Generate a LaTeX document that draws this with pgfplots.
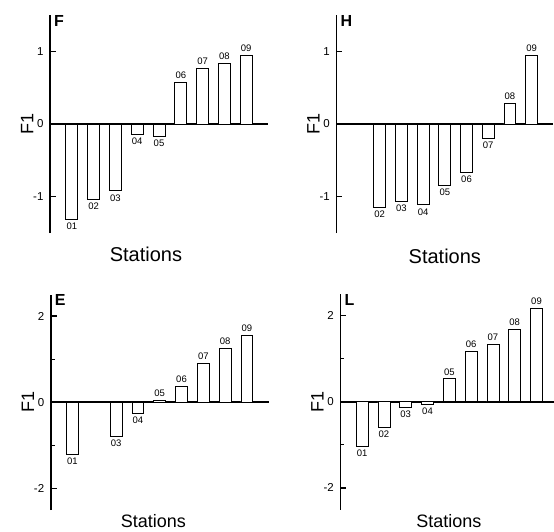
\documentclass[border=0pt]{standalone}
\usepackage{pgfplots}
\pgfplotsset{compat=1.18}
\usepackage{fontspec}
\setmainfont{Liberation Sans}

\pgfplotsset{
  panel/.style={
    scale only axis,
    anchor=south west,
    xmin=0, xmax=10,
    axis x line=middle, axis y line=left,
    axis line style={-, line width=1.6pt},
    xtick=\empty,
    tick align=inside,
    major tick length=6pt, minor tick length=4pt,
    every tick/.style={black, line width=1.2pt},
    yticklabel style={font=\fontsize{11.5}{13}\selectfont, xshift=-3pt},
    xlabel={Stations},
    xlabel style={anchor=center, font=\fontsize{20}{24}\selectfont},
    ybar, bar width=0.55,
    point meta=explicit symbolic,
    nodes near coords,
    every node near coord/.append style={font=\fontsize{9.5}{11}\selectfont, black},
    clip=false,
  },
  small/.style={ymin=-1.5, ymax=1.5, ytick={-1,0,1}, yticklabels={-1,0,1}},
  big/.style={ymin=-2.5, ymax=2.5, ytick={-2,0,2}, yticklabels={-2,0,2},
    minor ytick={-1,1}},
  pos/.style={fill=white, draw=black, line width=0.8pt, bar shift=0pt},
  neg/.style={pos, every node near coord/.append style={anchor=north}},
}
\tikzset{
  letter/.style={anchor=north west, inner sep=0pt, xshift=4pt,
    font=\bfseries\fontsize{16}{18}\selectfont},
  ylab/.style={rotate=90, anchor=center, font=\fontsize{18}{20}\selectfont},
}

\begin{document}
\begin{tikzpicture}
\useasboundingbox (0,0) rectangle (554pt,531pt);

% F
\begin{axis}[panel, small, at={(50pt,298pt)}, width=218pt, height=218pt,
  xlabel style={at={(axis description cs:0.44,-0.096)}}]
\addplot[neg] coordinates {
  (1,-1.31) [01] (2,-1.04) [02] (3,-0.92) [03] (4,-0.14) [04] (5,-0.17) [05]};
\addplot[pos] coordinates {
  (6,0.57) [06] (7,0.76) [07] (8,0.83) [08] (9,0.94) [09]};
\node[letter] at (rel axis cs:0,1) {F};
\node[ylab] at (rel axis cs:-0.105,0.5) {F1};
\end{axis}

% H
\begin{axis}[panel, small, at={(336.3pt,298pt)}, width=217pt, height=218pt,
  xlabel style={at={(axis description cs:0.5,-0.105)}}]
\addplot[neg] coordinates {
  (2,-1.15) [02] (3,-1.06) [03] (4,-1.11) [04] (5,-0.84) [05]
  (6,-0.66) [06] (7,-0.20) [07]};
\addplot[pos] coordinates {(8,0.28) [08] (9,0.94) [09]};
\node[letter] at (rel axis cs:0,1) {H};
\node[ylab] at (rel axis cs:-0.105,0.5) {F1};
\end{axis}

% E
\begin{axis}[panel, big, at={(50.7pt,21pt)}, width=218pt, height=215.5pt,
  xlabel style={at={(axis description cs:0.471,-0.051)},
    font=\fontsize{18}{20}\selectfont}]
\addplot[neg] coordinates {
  (1,-1.21) [01] (3,-0.79) [03] (4,-0.26) [04]};
\addplot[pos] coordinates {
  (5,0.05) [05] (6,0.37) [06] (7,0.90) [07] (8,1.26) [08] (9,1.55) [09]};
\node[letter] at (rel axis cs:0,1) {E};
\node[ylab] at (rel axis cs:-0.105,0.5) {F1};
\end{axis}

% L
\begin{axis}[panel, big, at={(340.3pt,21.5pt)}, width=218pt, height=215.6pt,
  xlabel style={at={(axis description cs:0.498,-0.055)},
    font=\fontsize{18}{20}\selectfont}]
\addplot[neg] coordinates {
  (1,-1.04) [01] (2,-0.60) [02] (3,-0.13) [03] (4,-0.06) [04]};
\addplot[pos] coordinates {
  (5,0.53) [05] (6,1.16) [06] (7,1.33) [07] (8,1.68) [08] (9,2.17) [09]};
\node[letter] at (rel axis cs:0,1) {L};
\node[ylab] at (rel axis cs:-0.105,0.5) {F1};
\end{axis}
\end{tikzpicture}
\end{document}
